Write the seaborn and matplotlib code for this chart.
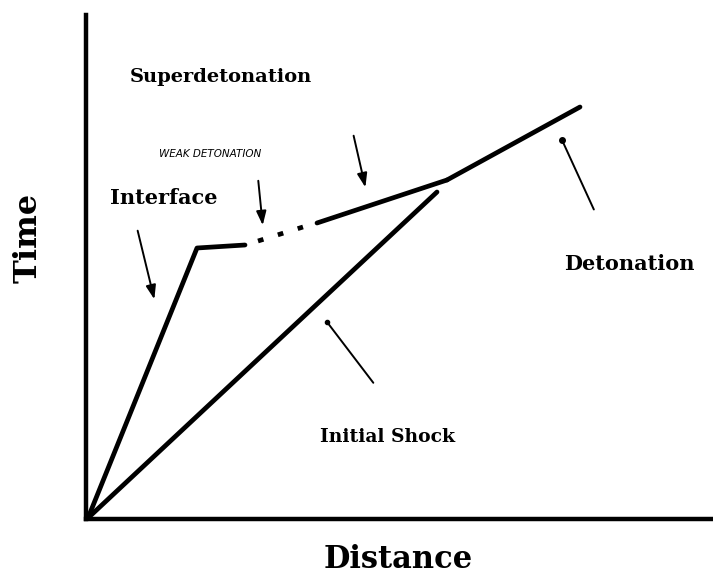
import matplotlib
matplotlib.use("Agg")
import matplotlib.pyplot as plt
import seaborn as sns
import pandas as pd

sns.set_theme(style="white")
plt.rcParams['font.family'] = ['DejaVu Serif']

# Segments of the distance-time diagram (arbitrary units)
shock_x = [0, 349]
shock_t = [0, 326]
interface_x = [0, 109, 157]
interface_t = [0, 270, 273]
weak_x = [170, 215]
weak_t = [277, 291]
super_x = [229, 359]
super_t = [295, 338]
deton_x = [359, 492]
deton_t = [338, 411]

W, H = 713, 583
fig = plt.figure(figsize=(W / 100, H / 100), dpi=100)
ax = fig.add_axes([86 / W, (H - 519) / H, 627 / W, 504 / H])

lw = 3.4
for xs, ts in [(shock_x, shock_t), (interface_x, interface_t),
               (super_x, super_t), (deton_x, deton_t)]:
    df = pd.DataFrame({"Distance": xs, "Time": ts})
    sns.lineplot(data=df, x="Distance", y="Time", ax=ax, color="black",
                 linewidth=lw, sort=False, estimator=None)
df = pd.DataFrame({"Distance": weak_x, "Time": weak_t})
sns.lineplot(data=df, x="Distance", y="Time", ax=ax, color="black",
             linewidth=lw, sort=False, estimator=None, linestyle=(0, (1.2, 3.2)))

ax.set_xlim(-2, 625)
ax.set_ylim(-1, 503)
ax.set_xticks([])
ax.set_yticks([])
ax.set_xlabel("")
ax.set_ylabel("")
for s in ["top", "right"]:
    ax.spines[s].set_visible(False)
for s in ["left", "bottom"]:
    ax.spines[s].set_color("black")
    ax.spines[s].set_linewidth(3.2)

bold = dict(fontweight="bold", color="black", ha="center", va="center")
ax.text(133, 441, "Superdetonation", fontsize=14, **bold)
ax.text(76, 320, "Interface", fontsize=15, **bold)
ax.text(541, 254, "Detonation", fontsize=15, **bold)
ax.text(300, 81, "Initial Shock", fontsize=13.5, **bold)
ax.text(122, 364, "WEAK DETONATION", fontsize=7.5, style="italic",
        family="DejaVu Sans", color="black", ha="center", va="center")

arrow = dict(arrowstyle="-|>,head_length=0.7,head_width=0.25", color="black", lw=1.4)
ax.annotate("", xy=(67, 216), xytext=(49, 290), arrowprops=arrow)
ax.annotate("", xy=(175, 290), xytext=(170, 340), arrowprops=arrow)
ax.annotate("", xy=(278, 328), xytext=(265, 385), arrowprops=arrow)
dot = dict(arrowstyle="-", color="black", lw=1.4)
ax.annotate("", xy=(474, 378), xytext=(507, 306), arrowprops=dot)
ax.plot([474], [378], "o", color="black", markersize=4)
ax.annotate("", xy=(239, 196), xytext=(287, 133), arrowprops=dot)
ax.plot([239], [196], "o", color="black", markersize=3)

fig.text(28 / W, 1 - 238 / H, "Time", rotation=90, fontsize=23, fontweight="bold",
         color="black", ha="center", va="center")
fig.text(398 / W, 1 - 560 / H, "Distance", fontsize=22, fontweight="bold",
         color="black", ha="center", va="center")

fig.savefig("out.png", dpi=100, facecolor="white")
